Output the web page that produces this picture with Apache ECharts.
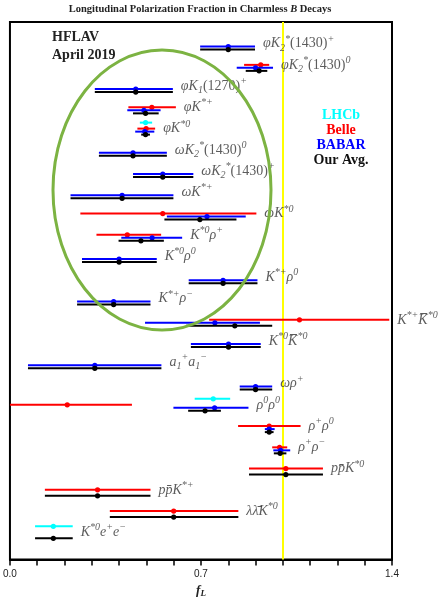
<!DOCTYPE html>
<html>
<head>
<meta charset="utf-8">
<script src="https://cdn.jsdelivr.net/npm/echarts@6/dist/echarts.min.js"></script>
<style>
  html, body { margin: 0; padding: 0; background: #fff; }
  #chart { width: 446px; height: 603px; }
</style>
</head>
<body>
<div id="chart"></div>
<script>
// decay modes, top to bottom (row index = position in this list)
const decays = [
  "φK{sb|2}{sp|*}{r|(1430)}{sp|+}",
  "φK{sb|2}{sp|*}{r|(1430)}{sp|0}",
  "φK{sb|1}{r|(1270)}{sp|+}",
  "φK{sp|*+}",
  "φK{sp|*0}",
  "ωK{sb|2}{sp|*}{r|(1430)}{sp|0}",
  "ωK{sb|2}{sp|*}{r|(1430)}{sp|+}",
  "ωK{sp|*+}",
  "ωK{sp|*0}",
  "K{sp|*0}ρ{sp|+}",
  "K{sp|*0}ρ{sp|0}",
  "K{sp|*+}ρ{sp|0}",
  "K{sp|*+}ρ{sp|−}",
  "K{sp|*+}K\u0305{sp|*0}",
  "K{sp|*0}K\u0305{sp|*0}",
  "a{sb|1}{sp|+}a{sb|1}{sp|−}",
  "ωρ{sp|+}",
  "ρ{sp|0}ρ{sp|0}",
  "ρ{sp|+}ρ{sp|0}",
  "ρ{sp|+}ρ{sp|−}",
  "pp\u0304K{sp|*0}",
  "pp\u0304K{sp|*+}",
  "λλ\u0304K{sp|*0}",
  "K{sp|*0}e{sp|+}e{sp|−}"
];

// [row, fL, low, high]
const lhcb = [
  [4, 0.497, 0.476, 0.521],
  [17, 0.745, 0.677, 0.807],
  [23, 0.159, 0.092, 0.230]
];
const belle = [
  [1, 0.919, 0.858, 0.950],
  [3, 0.520, 0.434, 0.608],
  [4, 0.499, 0.467, 0.532],
  [8, 0.560, 0.258, 0.903],
  [9, 0.430, 0.317, 0.554],
  [13, 1.061, 0.730, 1.390],
  [17, 0.210, -0.05, 0.447],
  [18, 0.950, 0.836, 1.065],
  [19, 0.988, 0.961, 1.016],
  [20, 1.011, 0.876, 1.147],
  [21, 0.321, 0.128, 0.515],
  [22, 0.600, 0.366, 0.837]
];
const babar = [
  [0, 0.800, 0.697, 0.898],
  [1, 0.900, 0.831, 0.964],
  [2, 0.461, 0.311, 0.597],
  [3, 0.491, 0.430, 0.552],
  [4, 0.494, 0.459, 0.529],
  [5, 0.451, 0.326, 0.575],
  [6, 0.560, 0.451, 0.672],
  [7, 0.411, 0.222, 0.599],
  [8, 0.722, 0.575, 0.864],
  [9, 0.521, 0.408, 0.631],
  [10, 0.400, 0.264, 0.538],
  [11, 0.781, 0.655, 0.907],
  [12, 0.380, 0.246, 0.515],
  [13, 0.751, 0.495, 0.916],
  [14, 0.801, 0.663, 0.919],
  [15, 0.311, 0.066, 0.555],
  [16, 0.900, 0.842, 0.961],
  [17, 0.750, 0.599, 0.874],
  [18, 0.950, 0.934, 0.970],
  [19, 0.992, 0.965, 1.027]
];
const avg = [
  [0, 0.800, 0.697, 0.898],
  [1, 0.913, 0.864, 0.943],
  [2, 0.461, 0.311, 0.597],
  [3, 0.497, 0.451, 0.545],
  [4, 0.497, 0.481, 0.513],
  [5, 0.451, 0.326, 0.575],
  [6, 0.560, 0.451, 0.672],
  [7, 0.411, 0.222, 0.599],
  [8, 0.696, 0.566, 0.830],
  [9, 0.480, 0.398, 0.564],
  [10, 0.400, 0.264, 0.538],
  [11, 0.781, 0.655, 0.907],
  [12, 0.380, 0.246, 0.515],
  [13, 0.824, 0.645, 0.961],
  [14, 0.801, 0.663, 0.919],
  [15, 0.311, 0.066, 0.555],
  [16, 0.900, 0.842, 0.961],
  [17, 0.715, 0.653, 0.773],
  [18, 0.950, 0.934, 0.966],
  [19, 0.990, 0.967, 1.013],
  [20, 1.011, 0.876, 1.147],
  [21, 0.321, 0.128, 0.515],
  [22, 0.600, 0.366, 0.837],
  [23, 0.159, 0.092, 0.230]
];

const xTicks = [0, 0.7, 1.4];

const SERIF = "'Liberation Serif', 'DejaVu Serif', serif";
const TXT = "#333";

// right end of each row, where its label starts
const rowEnd = decays.map((d, i) => {
  let m = 0;
  [lhcb, belle, babar, avg].forEach(arr => arr.forEach(r => { if (r[0] === i) m = Math.max(m, r[3]); }));
  return [m, i];
});

function errSeries(name, data, color, dy) {
  return {
    name: name,
    type: "custom",
    data: data,
    encode: { x: [1, 2, 3], y: 0 },
    z: 3,
    renderItem: function (params, api) {
      const cs = params.coordSys;
      const y = api.coord([0, api.value(0)])[1] + dy;
      const lo = Math.max(api.coord([api.value(2), 0])[0], cs.x);
      const hi = Math.min(api.coord([api.value(3), 0])[0], cs.x + cs.width);
      const c = api.coord([api.value(1), 0])[0];
      return {
        type: "group",
        children: [
          { type: "line", shape: { x1: lo, y1: y, x2: hi, y2: y }, style: { stroke: color, lineWidth: 2 } },
          { type: "circle", shape: { cx: c, cy: y, r: 2.6 }, style: { fill: color } }
        ]
      };
    }
  };
}

const chart = echarts.init(document.getElementById("chart"));

const labelRich = {
  sp: { fontSize: 10, lineHeight: 10, verticalAlign: "top", fontStyle: "italic", fontFamily: SERIF, color: TXT },
  sb: { fontSize: 10, lineHeight: 12, verticalAlign: "bottom", fontStyle: "italic", fontFamily: SERIF, color: TXT },
  r: { fontSize: 14, lineHeight: 19, fontStyle: "normal", fontFamily: SERIF, color: TXT }
};

chart.setOption({
  animation: false,
  grid: { left: 8, right: 54, top: 22, bottom: 37, show: true, borderColor: "#000", borderWidth: 2, backgroundColor: "transparent" },
  xAxis: {
    type: "value",
    min: 0,
    max: 1.4,
    interval: 0.1,
    splitLine: { show: false },
    axisLine: { onZero: false, lineStyle: { color: "#000", width: 2 } },
    axisTick: { inside: false, length: 6, lineStyle: { color: "#000", width: 1.5 } },
    axisLabel: {
      margin: 10,
      color: "#222",
      fontFamily: "'Liberation Sans', Arial, sans-serif",
      fontSize: 10,
      formatter: function (v) {
        return xTicks.some(t => Math.abs(t - v) < 1e-6) ? v.toFixed(1) : "";
      }
    },
    name: "{f|f}{s|L}",
    nameLocation: "middle",
    nameGap: 14,
    nameTextStyle: {
      rich: {
        f: { fontFamily: SERIF, fontStyle: "italic", fontWeight: "bold", fontSize: 13, color: "#222", lineHeight: 14 },
        s: { fontFamily: SERIF, fontStyle: "italic", fontWeight: "bold", fontSize: 9, color: "#222", lineHeight: 9, verticalAlign: "bottom" }
      }
    }
  },
  yAxis: { type: "value", inverse: true, min: -1.3, max: 24.0, show: false },
  series: [
    {
      name: "labels",
      type: "scatter",
      data: rowEnd,
      symbolSize: 0,
      z: 4,
      label: {
        show: true,
        position: "right",
        distance: 8,
        offset: [0, -6],
        formatter: p => decays[p.dataIndex],
        fontFamily: SERIF,
        fontStyle: "italic",
        fontSize: 14,
        lineHeight: 19,
        color: TXT,
        rich: labelRich
      },
      markLine: {
        silent: true,
        symbol: "none",
        label: { show: false },
        lineStyle: { color: "#ffff00", width: 2, type: "solid" },
        data: [{ xAxis: 1.0 }],
        z: 1
      }
    },
    errSeries("LHCb", lhcb, "#00ffff", -12),
    errSeries("Belle", belle, "#ff0000", -6),
    errSeries("BABAR", babar, "#0000ff", -3),
    errSeries("Our Avg.", avg, "#000000", 0)
  ],
  graphic: [
    {
      type: "text", x: 200, y: 9, z: 10,
      style: {
        text: "Longitudinal Polarization Fraction in Charmless {b|B} Decays",
        align: "center", verticalAlign: "middle",
        font: "bold 10.5px " + SERIF, fill: "#222",
        rich: { b: { fontStyle: "italic", fontWeight: "bold", fontSize: 10.5, fontFamily: SERIF, fill: "#222" } }
      }
    },
    { type: "text", x: 52, y: 37, z: 10, style: { text: "HFLAV", verticalAlign: "middle", font: "bold 14px " + SERIF, fill: "#222" } },
    { type: "text", x: 52, y: 55, z: 10, style: { text: "April 2019", verticalAlign: "middle", font: "bold 14px " + SERIF, fill: "#222" } },
    { type: "text", x: 341, y: 115, z: 10, style: { text: "LHCb", align: "center", verticalAlign: "middle", font: "bold 14px " + SERIF, fill: "#00ffff" } },
    { type: "text", x: 341, y: 130, z: 10, style: { text: "Belle", align: "center", verticalAlign: "middle", font: "bold 14px " + SERIF, fill: "#ff0000" } },
    { type: "text", x: 341, y: 145, z: 10, style: { text: "BABAR", align: "center", verticalAlign: "middle", font: "bold 14px " + SERIF, fill: "#0000ff" } },
    { type: "text", x: 341, y: 160, z: 10, style: { text: "Our Avg.", align: "center", verticalAlign: "middle", font: "bold 14px " + SERIF, fill: "#111" } },
    {
      type: "ellipse", z: 5, silent: true,
      shape: { cx: 162, cy: 190, rx: 109, ry: 140 },
      style: { fill: "none", stroke: "#7cb342", lineWidth: 3 }
    }
  ]
});
</script>
</body>
</html>
